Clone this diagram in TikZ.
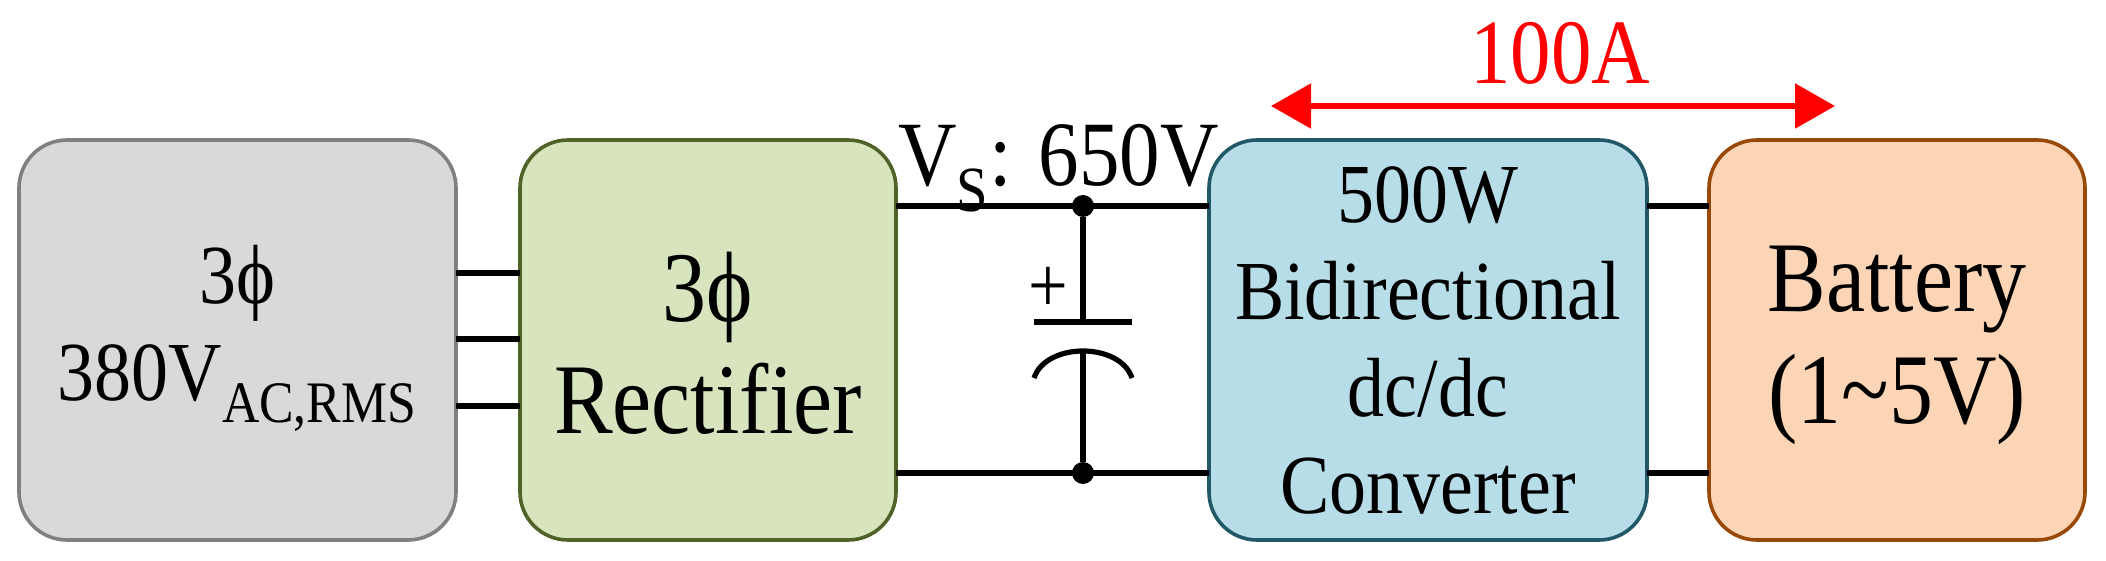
\documentclass[tikz,border=0pt]{standalone}
\usepackage{fontspec}
\setmainfont{Liberation Serif}[FakeStretch=0.88]
\usetikzlibrary{arrows.meta}
\definecolor{gB}{HTML}{808080}\definecolor{gF}{HTML}{D9D9D9}
\definecolor{rB}{HTML}{4F6228}\definecolor{rF}{HTML}{D7E4BD}
\definecolor{cB}{HTML}{215868}\definecolor{cF}{HTML}{B7DDE8}
\definecolor{bB}{HTML}{984807}\definecolor{bF}{HTML}{FBD5B5}
\begin{document}
\begin{tikzpicture}[x=0.5pt,y=-0.5pt,
 blk/.style={rounded corners=24pt,line width=1.8pt},
 txt/.style={font=\fontsize{42}{48.5}\selectfont,align=center},
 big/.style={font=\fontsize{50}{56}\selectfont,align=center},
 wire/.style={line width=2.6pt},
 dot/.style={circle,fill=black,inner sep=0pt,minimum size=11pt}]
\useasboundingbox (0,0) rectangle (2106,561);
\draw[blk,draw=gB,fill=gF] (19,140) rectangle (456,540);
\draw[blk,draw=rB,fill=rF] (520,140) rectangle (896,540);
\draw[blk,draw=cB,fill=cF] (1209,140) rectangle (1647,540);
\draw[blk,draw=bB,fill=bF] (1709,140) rectangle (2085,540);
\node[txt] (t1) at (237.5,338) {3ϕ\\380V\textsubscript{AC,RMS}};
\node[big] (t2) at (708,343) {3ϕ\\Rectifier};
\node[txt] (t3) at (1428,340) {500W\\Bidirectional\\dc/dc\\Converter};
\node[big] (t4) at (1897,345) {Battery\\(1\textasciitilde5V)};
\coordinate (a1) at (456,273); \coordinate (b1) at (520,273);
\coordinate (a2) at (456,339); \coordinate (b2) at (520,339);
\coordinate (a3) at (456,406); \coordinate (b3) at (520,406);
\draw[wire] (a1)--(b1) (a2)--(b2) (a3)--(b3);
\coordinate (r1) at (896,206); \coordinate (c1) at (1209,206);
\coordinate (r2) at (896,473); \coordinate (c2) at (1209,473);
\draw[wire] (r1)--(c1) (r2)--(c2);
\draw[wire] (1647,206)--(1709,206) (1647,473)--(1709,473);
\node[dot] (n1) at (1083,206) {};
\node[dot] (n2) at (1083,473) {};
\coordinate (p1) at (1083,322); \coordinate (p2) at (1083,351);
\draw[wire] (n1)--(p1) (1034,322)--(1132,322);
\draw[wire] (n2)--(p2);
\draw[wire] (1034,378) .. controls (1046,342) and (1120,342) .. (1132,378);
\node[font=\fontsize{40}{40}\selectfont] (plus) at (1048,290) {+};
\node[anchor=base west,inner sep=0pt,font=\fontsize{46}{46}\selectfont] (vs) at (898,186) {V\textsubscript{S}: 650V};
\coordinate (ar1) at (1271,106); \coordinate (ar2) at (1835,106);
\draw[red,line width=2.8pt,{Triangle[length=20pt,width=22pt]}-{Triangle[length=20pt,width=22pt]}] (ar1)--(ar2);
\node[red,anchor=base,inner sep=0pt,font=\fontsize{46}{46}\selectfont] (amp) at (1560,84) {100A};
\end{tikzpicture}
\end{document}
